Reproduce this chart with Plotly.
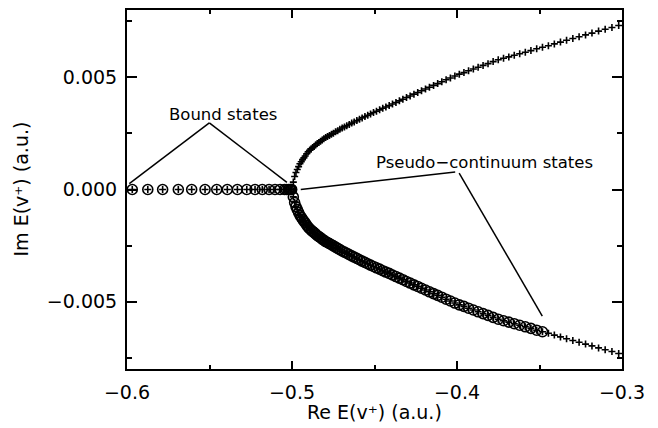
import plotly.graph_objects as go

# Bound states (real energies, Im = 0)
re_bound = [-0.5968, -0.5874, -0.5784, -0.5689, -0.5608, -0.5527, -0.5456, -0.5392,
            -0.5331, -0.5274, -0.5224, -0.5180, -0.5139, -0.5103, -0.5072, -0.5046,
            -0.5034, -0.5022, -0.5012, -0.5008, -0.5004, -0.5002]
im_bound = [0.0] * len(re_bound)

# Pseudo-continuum states: real parts (shared by both branches)
re_pc = [-0.4992, -0.4984, -0.4976, -0.4968, -0.4960, -0.4952, -0.4944, -0.4936, -0.4928, -0.4920,
         -0.4911, -0.4902, -0.4893, -0.4884, -0.4875, -0.4866, -0.4857, -0.4847, -0.4837, -0.4827,
         -0.4817, -0.4807, -0.4796,
         -0.4785, -0.4773, -0.4761, -0.4749, -0.4736, -0.4723, -0.4710, -0.4696, -0.4682, -0.4668,
         -0.4653, -0.4638, -0.4623, -0.4607, -0.4591, -0.4575, -0.4558, -0.4541, -0.4524, -0.4506,
         -0.4488,
         -0.4469, -0.4450, -0.4431, -0.4411, -0.4391, -0.4370, -0.4349, -0.4328, -0.4306, -0.4284,
         -0.4261, -0.4238, -0.4215, -0.4191, -0.4167, -0.4142, -0.4117, -0.4092, -0.4066, -0.4040,
         -0.4013, -0.3986,
         -0.3958, -0.3930, -0.3901, -0.3872, -0.3842, -0.3812, -0.3781, -0.3750, -0.3718, -0.3686,
         -0.3653, -0.3620, -0.3586, -0.3552, -0.3517, -0.3482,
         -0.3446, -0.3410, -0.3373, -0.3336, -0.3298, -0.3260, -0.3221, -0.3182, -0.3142, -0.3102,
         -0.3061, -0.3020]

im_upper = [0.00033, 0.00058, 0.00076, 0.00089, 0.00102, 0.00115, 0.00124, 0.00133, 0.00141, 0.00149,
            0.00159, 0.00168, 0.00175, 0.00181, 0.00187, 0.00192, 0.00198, 0.00205, 0.00210, 0.00215,
            0.00221, 0.00226, 0.00232,
            0.00236, 0.00241, 0.00246, 0.00251, 0.00257, 0.00262, 0.00268, 0.00274, 0.00279, 0.00284,
            0.00290, 0.00296, 0.00301, 0.00307, 0.00313, 0.00319, 0.00325, 0.00331, 0.00337, 0.00343,
            0.00349,
            0.00355, 0.00362, 0.00368, 0.00374, 0.00381, 0.00388, 0.00395, 0.00402, 0.00410, 0.00417,
            0.00425, 0.00432, 0.00440, 0.00448, 0.00456, 0.00464, 0.00472, 0.00480, 0.00489, 0.00497,
            0.00506, 0.00514,
            0.00521, 0.00529, 0.00537, 0.00545, 0.00553, 0.00561, 0.00570, 0.00578, 0.00585, 0.00591,
            0.00598, 0.00605, 0.00612, 0.00619, 0.00627, 0.00634,
            0.00641, 0.00649, 0.00657, 0.00665, 0.00673, 0.00681, 0.00689, 0.00697, 0.00706, 0.00714,
            0.00722, 0.00731]

im_lower = [-0.00033, -0.00058, -0.00076, -0.00089, -0.00102, -0.00115, -0.00124, -0.00133, -0.00141, -0.00149,
            -0.00159, -0.00168, -0.00175, -0.00181, -0.00187, -0.00192, -0.00198, -0.00205, -0.00210, -0.00215,
            -0.00221, -0.00226, -0.00232,
            -0.00236, -0.00241, -0.00246, -0.00251, -0.00257, -0.00262, -0.00268, -0.00274, -0.00279, -0.00284,
            -0.00290, -0.00296, -0.00301, -0.00307, -0.00313, -0.00319, -0.00325, -0.00331, -0.00337, -0.00343,
            -0.00349,
            -0.00355, -0.00362, -0.00368, -0.00374, -0.00381, -0.00388, -0.00395, -0.00402, -0.00410, -0.00417,
            -0.00425, -0.00432, -0.00440, -0.00448, -0.00456, -0.00464, -0.00472, -0.00480, -0.00489, -0.00497,
            -0.00506, -0.00514,
            -0.00521, -0.00529, -0.00537, -0.00545, -0.00553, -0.00561, -0.00570, -0.00578, -0.00585, -0.00591,
            -0.00598, -0.00605, -0.00612, -0.00619, -0.00627, -0.00634,
            -0.00641, -0.00649, -0.00657, -0.00665, -0.00673, -0.00681, -0.00689, -0.00697, -0.00706, -0.00714,
            -0.00722, -0.00731]

n_circled = 82  # lower-branch states marked with circles (up to Re ~ -0.348)

x_ticks = [-0.6, -0.5, -0.4, -0.3]
x_ticklabels = ["\u22120.6", "\u22120.5", "\u22120.4", "\u22120.3"]
y_ticks = [-0.005, 0.0, 0.005]
y_ticklabels = ["\u22120.005", "0.000", "0.005"]

FONT = "DejaVu Sans"

fig = go.Figure()

# circles
fig.add_trace(go.Scatter(
    x=re_bound + re_pc[:n_circled], y=im_bound + im_lower[:n_circled],
    mode="markers",
    marker=dict(symbol="circle-open", size=10, color="black", line=dict(width=1.6, color="black")),
    showlegend=False, hoverinfo="skip"))

# plus signs: all eigenvalues
fig.add_trace(go.Scatter(
    x=re_bound + re_pc + re_pc, y=im_bound + im_upper + im_lower,
    mode="markers",
    marker=dict(symbol="cross-thin", size=5, color="black", line=dict(width=1.6, color="black")),
    showlegend=False, hoverinfo="skip"))

axis_common = dict(
    showline=True, linecolor="black", linewidth=2, mirror="allticks",
    ticks="inside", tickcolor="black", tickwidth=1.5,
    showgrid=False, zeroline=False,
    tickfont=dict(family=FONT, size=19, color="black"),
)

fig.update_xaxes(
    range=[-0.6, -0.3], tickmode="array", tickvals=x_ticks, ticktext=x_ticklabels, ticklen=8,
    minor=dict(tickmode="linear", tick0=-0.6, dtick=0.05, ticks="inside", ticklen=4,
               tickcolor="black", tickwidth=1.5),
    ticklabelstandoff=5,
    **axis_common)
fig.update_yaxes(
    range=[-0.008, 0.008], tickmode="array", tickvals=y_ticks, ticktext=y_ticklabels, ticklen=10,
    minor=dict(tickmode="linear", tick0=0, dtick=0.0025, ticks="inside", ticklen=5,
               tickcolor="black", tickwidth=1.5),
    ticklabelstandoff=4,
    **axis_common)

line_style = dict(color="black", width=1.5)
shapes = [
    dict(type="line", xref="x", yref="y", x0=-0.5501, y0=0.00297, x1=-0.5986, y1=0.00026, line=line_style),
    dict(type="line", xref="x", yref="y", x0=-0.5501, y0=0.00297, x1=-0.5031, y1=0.00032, line=line_style),
    dict(type="line", xref="x", yref="y", x0=-0.4011, y0=0.00078, x1=-0.4947, y1=0.0, line=line_style),
    dict(type="line", xref="x", yref="y", x0=-0.3987, y0=0.00073, x1=-0.3483, y1=-0.00564, line=line_style),
]

annotations = [
    dict(text="Bound states", x=-0.5418, y=0.00335, xref="x", yref="y", showarrow=False,
         font=dict(family=FONT, size=16.5, color="black")),
    dict(text="Pseudo\u2212continuum states", x=-0.3835, y=0.00120, xref="x", yref="y", showarrow=False,
         font=dict(family=FONT, size=16.5, color="black")),
    # axis titles
    dict(text="Re E(v\u207a) (a.u.)", x=0.5, y=0, xref="paper", yref="paper", yshift=-43,
         xanchor="center", yanchor="middle", showarrow=False,
         font=dict(family=FONT, size=19, color="black")),
    dict(text="Im E(v\u207a) (a.u.)", x=0, y=0.5, xref="paper", yref="paper", xshift=-107,
         xanchor="center", yanchor="middle", textangle=-90, showarrow=False,
         font=dict(family=FONT, size=19, color="black")),
]

fig.update_layout(
    width=650, height=420,
    margin=dict(l=119, r=36, t=0, b=59),
    paper_bgcolor="white", plot_bgcolor="white",
    shapes=shapes, annotations=annotations,
    showlegend=False,
)

fig.write_html("out.html")
